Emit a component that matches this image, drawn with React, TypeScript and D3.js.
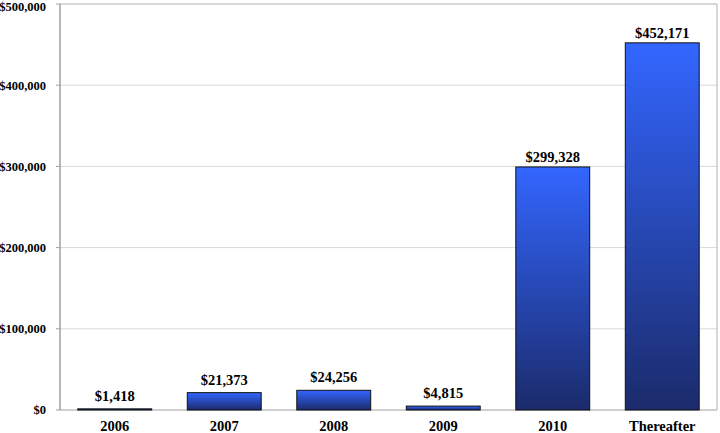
import React from "react";
import * as d3 from "d3";

const categories = ["2006", "2007", "2008", "2009", "2010", "Thereafter"];
const values = [1418, 21373, 24256, 4815, 299328, 452171];
const yTicks = [0, 100000, 200000, 300000, 400000, 500000];

const W = 720;
const H = 433;
const M = { left: 60, right: 3, top: 4, bottom: 23 };

export default function App() {
  const x = d3
    .scaleBand<string>()
    .domain(categories)
    .range([M.left, W - M.right])
    .paddingInner(0.325)
    .paddingOuter(0.1625);
  const y = d3.scaleLinear().domain([0, 500000]).range([H - M.bottom, M.top]);
  const fmt = (v: number) => "$" + d3.format(",")(v);
  const font = "'Liberation Serif', 'Times New Roman', serif";

  return (
    <svg
      width={W}
      height={H}
      style={{ position: "absolute", left: 0, top: 0, display: "block", fontFamily: font }}
    >
      <defs>
        <linearGradient id="barGrad" x1="0" y1="0" x2="0" y2="1">
          <stop offset="0%" stopColor="#3366ff" />
          <stop offset="100%" stopColor="#1b2b6b" />
        </linearGradient>
      </defs>
      <rect x={0} y={0} width={W} height={H} fill="#fff" />
      {yTicks.map((t) => (
        <g key={t}>
          {t > 0 && (
            <line
              x1={M.left}
              x2={W - M.right}
              y1={y(t)}
              y2={y(t)}
              stroke={t === 500000 ? "#b0b0b0" : "#d9d9d9"}
              strokeWidth={1}
            />
          )}
          <line x1={M.left - 4} x2={M.left} y1={y(t)} y2={y(t)} stroke="#a0a0a0" />
          <text
            x={M.left - 14}
            y={Math.max(y(t), 7)}
            dy="0.35em"
            textAnchor="end"
            fontSize={12.5}
            fontWeight="bold"
          >
            {fmt(t)}
          </text>
        </g>
      ))}
      <line x1={W - M.right} x2={W - M.right} y1={M.top} y2={y(0)} stroke="#b0b0b0" />
      <line x1={M.left} x2={M.left} y1={M.top} y2={y(0)} stroke="#a0a0a0" strokeWidth={1.5} />
      <line x1={M.left} x2={W - M.right} y1={y(0)} y2={y(0)} stroke="#a0a0a0" strokeWidth={1} />
      {categories.map((c, i) => {
        const v = values[i];
        const bx = x(c)!;
        const bw = x.bandwidth();
        const top = y(v);
        return (
          <g key={c}>
            <rect
              x={bx}
              y={top}
              width={bw}
              height={Math.max(y(0) - top, 1)}
              fill="url(#barGrad)"
              stroke="#111"
              strokeWidth={1}
            />
            <text
              x={bx + bw / 2}
              y={top - (v < 50000 ? 8 : 5)}
              textAnchor="middle"
              fontSize={14.5}
              fontWeight="bold"
            >
              {fmt(v)}
            </text>
            <text
              x={bx + bw / 2}
              y={431}
              textAnchor="middle"
              fontSize={14.5}
              fontWeight="bold"
            >
              {c}
            </text>
          </g>
        );
      })}
    </svg>
  );
}
